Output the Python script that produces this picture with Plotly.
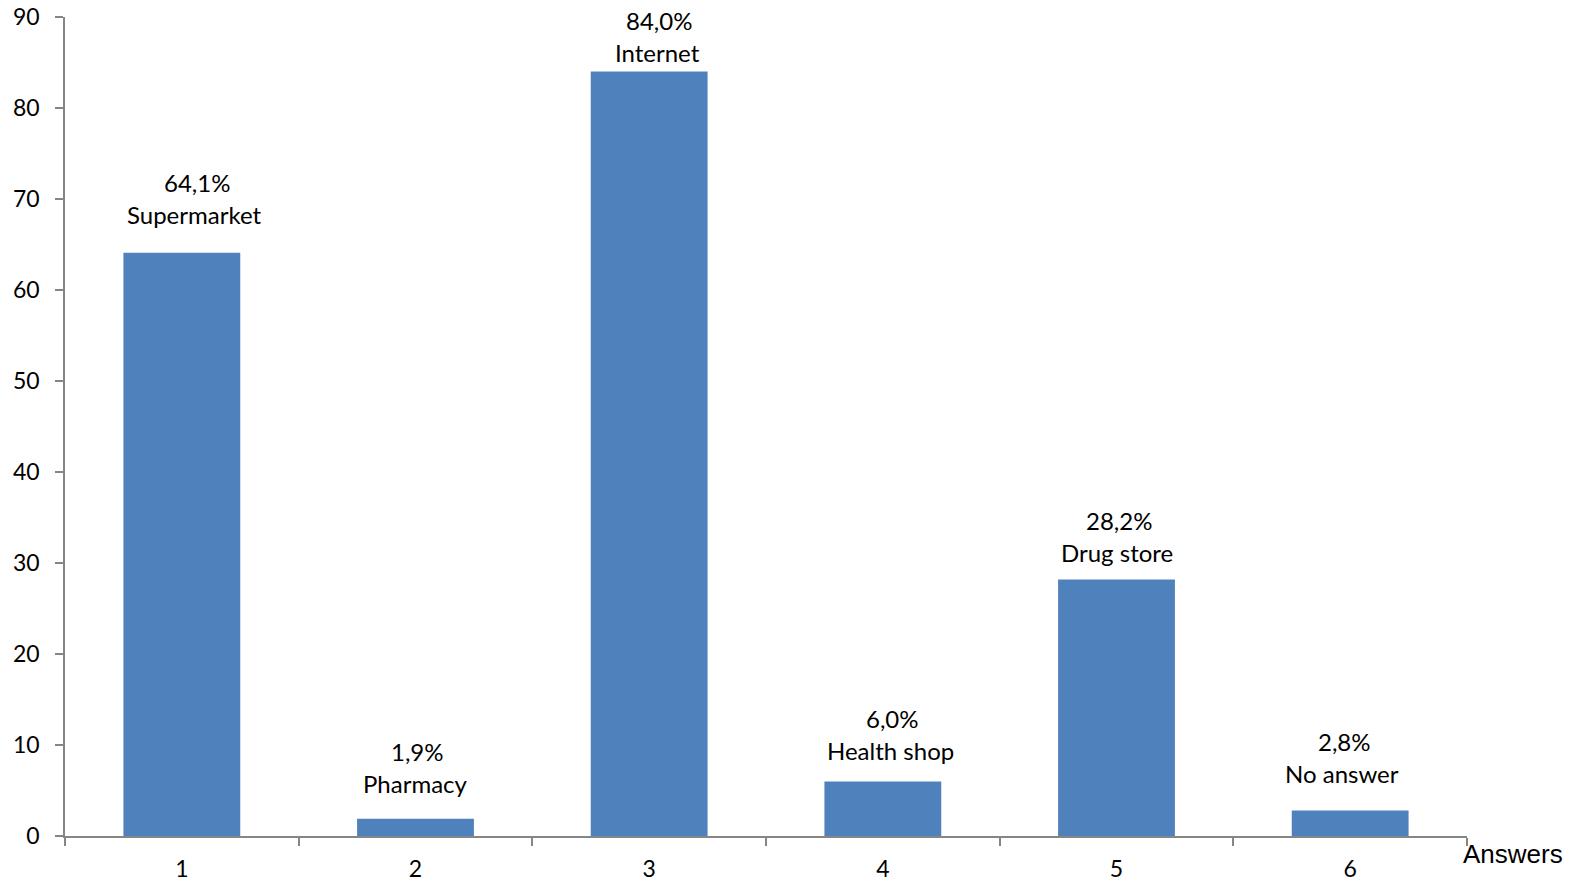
import plotly.graph_objects as go

categories = ["1", "2", "3", "4", "5", "6"]
values = [64.1, 1.9, 84.0, 6.0, 28.2, 2.8]
pct_labels = ["64,1%", "1,9%", "84,0%", "6,0%", "28,2%", "2,8%"]
names = ["Supermarket", "Pharmacy", "Internet", "Health shop", "Drug store", "No answer"]
y_ticks = [0, 10, 20, 30, 40, 50, 60, 70, 80, 90]

# label placement tweaks (pixels relative to bar top / centre)
name_shift = [38, 35, 19, 31, 27, 37]
x_shift = [13, 0, 8, 8, 0, -8]
line_gap = 32

BLUE = "#4F81BD"
AXIS = "#868686"
FONT = "Lato, Open Sans, sans-serif"

fig = go.Figure(go.Bar(x=categories, y=values, marker=dict(color=BLUE, line=dict(width=0)),
                       hoverinfo="skip"))

ann = []
for i, (v, p, n, ys, xs) in enumerate(zip(values, pct_labels, names, name_shift, x_shift)):
    ann.append(dict(x=i, y=v, text=n, showarrow=False, xanchor="center", yanchor="middle",
                    yshift=ys, xshift=xs, font=dict(size=24, color="#000", family=FONT)))
    ann.append(dict(x=i, y=v, text=p, showarrow=False, xanchor="center", yanchor="middle",
                    yshift=ys + line_gap, xshift=xs + 2, font=dict(size=24, color="#000", family=FONT)))
ann.append(dict(xref="paper", yref="paper", x=1.0328, y=-0.022, text="Answers", showarrow=False,
                xanchor="center", yanchor="middle",
                font=dict(size=26, color="#000", family="Liberation Sans, Arial, sans-serif")))

fig.update_layout(
    width=1579, height=882,
    margin=dict(l=65, r=112, t=17, b=46, autoexpand=False),
    paper_bgcolor="white", plot_bgcolor="white",
    bargap=0.5, showlegend=False,
    annotations=ann,
    xaxis=dict(type="category", range=[-0.5, 5.5], tickson="boundaries", ticks="outside", ticklen=8,
               tickwidth=1.5, automargin=False,
               tickcolor=AXIS, showline=True, linecolor=AXIS, linewidth=1.5, showgrid=False,
               tickfont=dict(size=23, color="#000", family=FONT), ticklabelstandoff=12),
    yaxis=dict(range=[0, 90], tickvals=y_ticks, ticks="outside", ticklen=8, tickwidth=1.5,
               tickcolor=AXIS, showline=True, linecolor=AXIS, linewidth=1.5, showgrid=False,
               automargin=False,
               zeroline=False, tickfont=dict(size=23, color="#000", family=FONT),
               ticklabelstandoff=11),
)

fig.write_html("out.html", post_script="document.body.style.margin='0';",
               config={"displayModeBar": False})
